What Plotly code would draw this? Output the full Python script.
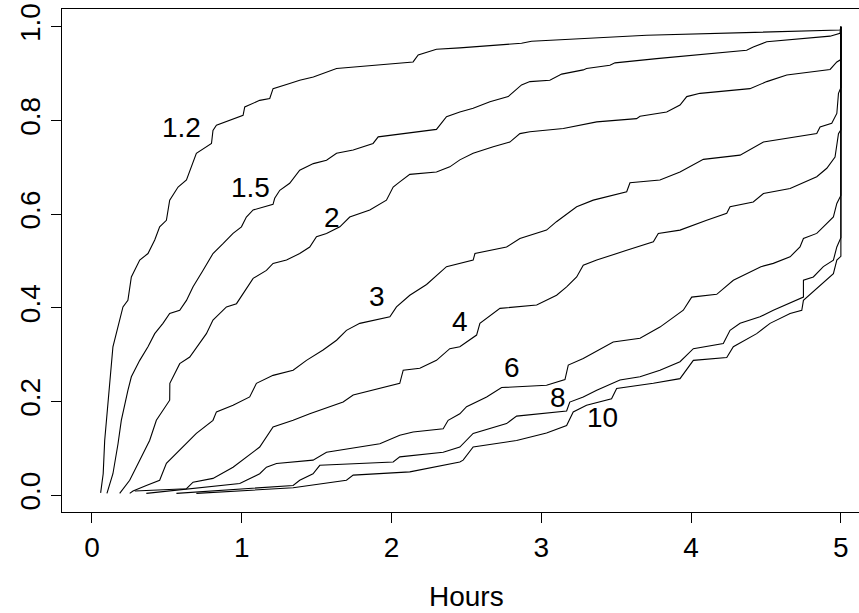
import plotly.graph_objects as go

# Empirical cumulative proportions vs. elapsed hours, one curve per group
groups = ["1.2", "1.5", "2", "3", "4", "6", "8", "10"]

hours_1_2 = [0.058, 0.075, 0.085, 0.114, 0.14, 0.207, 0.24, 0.263, 0.319, 0.374, 0.419, 0.452,
             0.497, 0.519, 0.575, 0.631, 0.697, 0.798, 0.808, 0.831, 0.931, 1.009, 1.02, 1.12,
             1.187, 1.209, 1.32, 1.387, 1.478, 1.633, 2.144, 2.178, 2.30, 2.456, 2.868, 2.935,
             3.703, 4.995, 5.0]
frac_1_2 = [0.005, 0.046, 0.117, 0.217, 0.317, 0.402, 0.416, 0.466, 0.502, 0.516, 0.545, 0.573,
            0.587, 0.630, 0.658, 0.673, 0.730, 0.751, 0.779, 0.790, 0.801, 0.811, 0.829, 0.843,
            0.847, 0.868, 0.879, 0.886, 0.893, 0.911, 0.925, 0.940, 0.952, 0.955, 0.965, 0.969,
            0.982, 0.993, 1.0]

hours_1_5 = [0.10, 0.14, 0.174, 0.196, 0.24, 0.263, 0.319, 0.374, 0.419, 0.474, 0.519, 0.586,
             0.631, 0.675, 0.741, 0.808, 0.875, 0.942, 0.998, 1.031, 1.076, 1.209, 1.22, 1.254,
             1.32, 1.387, 1.478, 1.566, 1.633, 1.744, 1.877, 1.911, 2.30, 2.367, 2.456, 2.545,
             2.657, 2.779, 2.868, 2.924, 3.057, 3.136, 3.28, 3.302, 3.458, 3.492, 3.77, 4.371,
             4.415, 4.505, 4.928, 4.994, 5.0]
frac_1_5 = [0.004, 0.046, 0.110, 0.160, 0.224, 0.253, 0.288, 0.317, 0.345, 0.367, 0.388, 0.395,
            0.416, 0.445, 0.480, 0.516, 0.537, 0.559, 0.573, 0.594, 0.609, 0.621, 0.634, 0.651,
            0.666, 0.694, 0.708, 0.715, 0.730, 0.737, 0.751, 0.765, 0.781, 0.808, 0.818, 0.826,
            0.840, 0.851, 0.876, 0.883, 0.886, 0.899, 0.908, 0.911, 0.918, 0.923, 0.932, 0.950,
            0.957, 0.968, 0.980, 0.986, 1.0]

hours_2 = [0.185, 0.252, 0.319, 0.385, 0.43, 0.519, 0.52, 0.586, 0.653, 0.719, 0.764, 0.808,
           0.898, 0.965, 1.009, 1.076, 1.165, 1.209, 1.299, 1.387, 1.454, 1.499, 1.566, 1.655,
           1.721, 1.855, 1.966, 2.011, 2.055, 2.122, 2.30, 2.389, 2.456, 2.545, 2.679, 2.79,
           2.857, 2.924, 3.147, 3.19, 3.37, 3.636, 3.659, 3.837, 3.926, 3.971, 4.06, 4.393,
           4.505, 4.639, 4.928, 4.973, 5.0, 5.0]
frac_2 = [0.004, 0.032, 0.075, 0.117, 0.160, 0.203, 0.239, 0.281, 0.295, 0.324, 0.345, 0.374,
          0.402, 0.409, 0.431, 0.463, 0.480, 0.495, 0.502, 0.516, 0.530, 0.552, 0.559, 0.573,
          0.594, 0.609, 0.630, 0.658, 0.669, 0.685, 0.690, 0.701, 0.716, 0.730, 0.744, 0.754,
          0.772, 0.776, 0.783, 0.786, 0.797, 0.804, 0.809, 0.818, 0.833, 0.851, 0.858, 0.868,
          0.883, 0.897, 0.909, 0.925, 0.930, 1.0]

hours_3 = [0.252, 0.274, 0.363, 0.452, 0.497, 0.564, 0.631, 0.697, 0.808, 0.831, 0.942, 1.053,
           1.098, 1.209, 1.343, 1.432, 1.543, 1.633, 1.699, 1.788, 1.989, 2.033, 2.122, 2.234,
           2.367, 2.545, 2.557, 2.768, 2.857, 3.035, 3.101, 3.236, 3.347, 3.57, 3.592, 3.792,
           3.926, 4.082, 4.327, 4.483, 4.839, 4.861, 4.939, 4.973, 4.984, 5.0, 5.0]
frac_3 = [0.004, 0.009, 0.021, 0.032, 0.068, 0.089, 0.110, 0.132, 0.160, 0.178, 0.192, 0.210,
          0.239, 0.256, 0.267, 0.288, 0.310, 0.331, 0.352, 0.367, 0.381, 0.402, 0.427, 0.450,
          0.488, 0.502, 0.516, 0.530, 0.548, 0.566, 0.584, 0.616, 0.630, 0.648, 0.667, 0.673,
          0.690, 0.717, 0.726, 0.754, 0.772, 0.786, 0.794, 0.815, 0.858, 0.870, 1.0]

hours_4 = [0.286, 0.631, 0.675, 0.808, 0.942, 1.031, 1.12, 1.209, 1.343, 1.454, 1.677, 1.744,
           2.055, 2.078, 2.189, 2.30, 2.389, 2.456, 2.568, 2.59, 2.724, 2.969, 3.102, 3.169,
           3.236, 3.28, 3.37, 3.57, 3.748, 3.781, 3.926, 4.104, 4.238, 4.26, 4.415, 4.483,
           4.661, 4.839, 4.906, 4.961, 4.984, 5.0, 5.0]
frac_4 = [0.009, 0.014, 0.028, 0.036, 0.060, 0.082, 0.103, 0.146, 0.160, 0.174, 0.199, 0.214,
          0.239, 0.267, 0.271, 0.288, 0.313, 0.317, 0.342, 0.367, 0.399, 0.406, 0.427, 0.445,
          0.466, 0.491, 0.502, 0.523, 0.541, 0.559, 0.566, 0.587, 0.602, 0.616, 0.626, 0.644,
          0.655, 0.680, 0.698, 0.722, 0.772, 0.780, 1.0]

hours_6 = [0.363, 0.987, 1.031, 1.12, 1.165, 1.232, 1.476, 1.566, 1.922, 2.055, 2.144, 2.345,
           2.378, 2.456, 2.501, 2.635, 2.735, 3.035, 3.158, 3.18, 3.28, 3.48, 3.659, 3.792,
           3.948, 4.004, 4.171, 4.282, 4.466, 4.549, 4.661, 4.727, 4.75, 4.839, 4.883, 4.95,
           4.973, 5.0, 5.0]
frac_6 = [0.004, 0.025, 0.032, 0.046, 0.060, 0.068, 0.075, 0.092, 0.110, 0.128, 0.135, 0.142,
          0.160, 0.174, 0.189, 0.210, 0.230, 0.235, 0.247, 0.278, 0.292, 0.327, 0.335, 0.359,
          0.395, 0.423, 0.429, 0.459, 0.488, 0.495, 0.509, 0.530, 0.548, 0.559, 0.573, 0.594,
          0.623, 0.640, 1.0]

hours_8 = [0.564, 1.343, 1.387, 1.476, 1.521, 2.011, 2.055, 2.345, 2.456, 2.545, 2.768, 2.835,
           3.169, 3.19, 3.28, 3.37, 3.525, 3.659, 3.792, 3.926, 4.015, 4.215, 4.26, 4.327,
           4.46, 4.549, 4.75, 4.75, 4.816, 4.883, 4.95, 4.973, 5.0, 5.0]
frac_8 = [0.004, 0.021, 0.032, 0.046, 0.064, 0.071, 0.082, 0.092, 0.103, 0.132, 0.153, 0.169,
          0.180, 0.199, 0.210, 0.224, 0.246, 0.253, 0.267, 0.285, 0.313, 0.324, 0.352, 0.367,
          0.381, 0.395, 0.423, 0.459, 0.466, 0.488, 0.502, 0.530, 0.550, 1.0]

hours_10 = [0.697, 1.343, 1.699, 1.744, 2.122, 2.456, 2.478, 2.545, 2.835, 3.035, 3.169, 3.213,
            3.302, 3.469, 3.503, 3.748, 3.926, 4.015, 4.238, 4.282, 4.438, 4.527, 4.661, 4.739,
            4.75, 4.906, 4.95, 4.973, 5.0, 5.0]
frac_10 = [0.004, 0.016, 0.032, 0.043, 0.050, 0.071, 0.075, 0.103, 0.117, 0.133, 0.149, 0.178,
           0.192, 0.206, 0.228, 0.239, 0.249, 0.288, 0.294, 0.317, 0.345, 0.367, 0.388, 0.395,
           0.416, 0.459, 0.473, 0.502, 0.510, 1.0]

hours = [hours_1_2, hours_1_5, hours_2, hours_3, hours_4, hours_6, hours_8, hours_10]
fracs = [frac_1_2, frac_1_5, frac_2, frac_3, frac_4, frac_6, frac_8, frac_10]

# Where each group's name is written inside the panel
label_x = [0.601, 1.06, 1.603, 1.904, 2.456, 2.802, 3.111, 3.41]
label_y = [0.786, 0.658, 0.592, 0.424, 0.372, 0.273, 0.208, 0.166]

x_ticks = [0, 1, 2, 3, 4, 5]
y_ticks = [0.0, 0.2, 0.4, 0.6, 0.8, 1.0]
y_tick_text = ["0.0", "0.2", "0.4", "0.6", "0.8", "1.0"]

FONT = "Liberation Sans, Arial, Helvetica, sans-serif"

fig = go.Figure()
for name, xs, ys in zip(groups, hours, fracs):
    fig.add_trace(go.Scatter(x=xs, y=ys, mode="lines", name=name,
                             line=dict(color="black", width=1.1)))

for name, lx, ly in zip(groups, label_x, label_y):
    fig.add_annotation(x=lx, y=ly, text=name, showarrow=False,
                       xanchor="center", yanchor="middle",
                       font=dict(family=FONT, size=28, color="black"))

fig.add_annotation(x=2.5, xref="x", y=0, yref="paper", text="Hours", showarrow=False,
                   xanchor="center", yanchor="middle", yshift=-84,
                   font=dict(family=FONT, size=28, color="black"))

fig.update_layout(
    width=859, height=613,
    margin=dict(l=62, r=0, t=9, b=101),
    paper_bgcolor="white", plot_bgcolor="white",
    showlegend=False,
    font=dict(family=FONT, size=28, color="black"),
)
fig.update_xaxes(range=[-0.2, 5.121], tickvals=x_ticks, ticktext=[str(v) for v in x_ticks],
                 ticks="outside", ticklen=10, tickcolor="black", tickwidth=1,
                 showline=True, linecolor="black", linewidth=1, mirror=True,
                 showgrid=False, zeroline=False,
                 tickfont=dict(family=FONT, size=28, color="black"))
fig.update_yaxes(range=[-0.0357, 1.038], tickvals=y_ticks, ticktext=y_tick_text,
                 ticks="outside", ticklen=10, tickcolor="black", tickwidth=1,
                 showline=True, linecolor="black", linewidth=1, mirror=False,
                 showgrid=False, zeroline=False, tickangle=-90,
                 tickfont=dict(family=FONT, size=28, color="black"))

fig.write_html("out.html")
